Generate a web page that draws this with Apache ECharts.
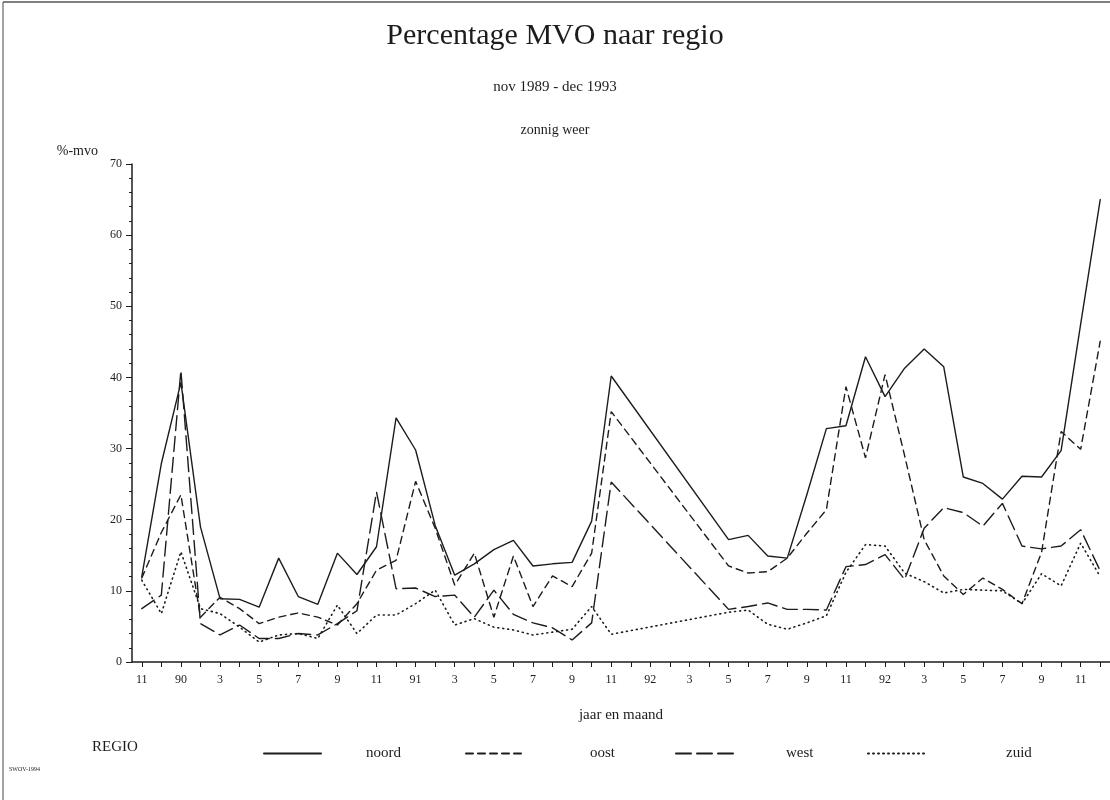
<!DOCTYPE html>
<html>
<head>
<meta charset="utf-8">
<script src="https://cdn.jsdelivr.net/npm/echarts@6/dist/echarts.min.js"></script>
<style>
html,body{margin:0;padding:0;background:#fff;}
#chart{width:1110px;height:800px;}
</style>
</head>
<body>
<div id="chart"></div>
<script>
// Months nov 1989 .. dec 1993 (50 categories)
const months = [
 '1989-11','1989-12',
 '1990-01','1990-02','1990-03','1990-04','1990-05','1990-06','1990-07','1990-08','1990-09','1990-10','1990-11','1990-12',
 '1991-01','1991-02','1991-03','1991-04','1991-05','1991-06','1991-07','1991-08','1991-09','1991-10','1991-11','1991-12',
 '1992-01','1992-02','1992-03','1992-04','1992-05','1992-06','1992-07','1992-08','1992-09','1992-10','1992-11','1992-12',
 '1993-01','1993-02','1993-03','1993-04','1993-05','1993-06','1993-07','1993-08','1993-09','1993-10','1993-11','1993-12'
];
// Tick labels as printed (every second month)
const tickLabels = ['11','90','3','5','7','9','11','91','3','5','7','9','11','92','3','5','7','9','11','92','3','5','7','9','11'];

const noord = [12.0,27.9,39.3,19.0,8.9,8.8,7.7,14.6,9.2,8.1,15.3,12.3,16.2,34.3,29.8,19.2,12.2,13.8,15.8,17.1,13.5,13.8,14.0,19.8,40.2,
  null,null,null,null,null,17.2,17.8,14.9,14.6,23.5,32.8,33.2,42.9,37.3,41.3,44.0,41.5,26.0,25.1,22.9,26.1,26.0,29.7,47.5,65.0];
const oost = [11.8,18.2,23.5,6.3,9.1,7.5,5.4,6.3,6.9,6.3,5.2,8.2,12.9,14.3,25.4,18.8,10.8,15.3,6.3,14.9,7.8,12.1,10.6,15.3,35.2,
  null,null,null,null,null,13.5,12.5,12.7,14.6,18.1,21.4,38.7,28.7,40.4,29.0,17.2,12.1,9.5,11.8,10.2,8.2,15.4,32.4,29.9,45.1];
const west = [7.5,9.4,41.0,5.4,3.8,5.2,3.3,3.3,4.0,3.8,5.4,7.2,23.9,10.3,10.4,9.2,9.4,6.3,10.1,6.7,5.5,4.8,3.1,5.5,25.3,
  null,null,null,null,null,7.4,7.8,8.3,7.4,7.4,7.3,13.4,13.7,15.1,11.6,18.8,21.7,21.0,19.1,22.3,16.3,15.9,16.3,18.6,12.8];
const zuid = [11.5,6.8,15.5,7.5,6.8,4.9,2.8,3.8,4.0,3.3,8.0,4.0,6.6,6.6,8.2,10.1,5.2,6.1,4.9,4.5,3.8,4.2,4.6,7.8,3.9,
  null,null,null,null,null,7.0,7.3,5.3,4.6,5.5,6.5,12.6,16.5,16.3,12.5,11.3,9.7,10.2,10.1,10.0,8.2,12.4,10.7,16.7,12.0];

const serif = "'Liberation Serif','DejaVu Serif',serif";
const ink = '#1c1c1c';

const chart = echarts.init(document.getElementById('chart'), null, {renderer:'canvas'});

function lineSeries(name, data, type, width){
  return {
    name: name, type: 'line', data: data, connectNulls: true,
    symbol: 'none', showSymbol: false, animation: false,
    lineStyle: {color: ink, width: width, type: type, cap: 'round'},
    itemStyle: {color: ink},
    emphasis: {disabled: true}
  };
}

function legendItem(name, left, pad){
  return {
    data: [name], left: left, top: 741, itemWidth: 57, itemHeight: 14,
    itemStyle: {opacity: 0},
    textStyle: {fontFamily: serif, fontSize: 15, color: ink, padding: [0,0,0,pad]},
    selectedMode: false
  };
}

chart.setOption({
  backgroundColor: '#ffffff',
  animation: false,
  title: [
    {text: 'Percentage MVO naar regio', left: 'center', top: 16,
     textStyle: {fontFamily: serif, fontSize: 30, fontWeight: 'normal', color: ink}},
    {text: 'nov 1989 - dec 1993', left: 'center', top: 75,
     textStyle: {fontFamily: serif, fontSize: 15, fontWeight: 'normal', color: ink}},
    {text: 'zonnig weer', left: 'center', top: 118,
     textStyle: {fontFamily: serif, fontSize: 14, fontWeight: 'normal', color: ink}}
  ],
  grid: {left: 132, top: 164, height: 498, width: 990, containLabel: false},
  xAxis: {
    type: 'category', data: months, boundaryGap: true,
    name: 'jaar en maand', nameLocation: 'middle', nameGap: 46,
    nameTextStyle: {fontFamily: serif, fontSize: 15, color: ink},
    axisLine: {lineStyle: {color: ink, width: 1.5}},
    axisTick: {show: true, interval: 0, alignWithLabel: true, length: 5, lineStyle: {color: ink, width: 1}},
    axisLabel: {interval: 0, margin: 12, fontFamily: serif, fontSize: 12, color: ink,
      formatter: function(v, i){ return i % 2 === 0 ? tickLabels[i/2] : ''; }},
    splitLine: {show: false}
  },
  yAxis: {
    type: 'value', min: 0, max: 70, interval: 10,
    name: '%-mvo', nameLocation: 'end', nameGap: 6,
    nameTextStyle: {fontFamily: serif, fontSize: 14, color: ink, align: 'right', padding: [0, 34, 0, 0]},
    axisLine: {show: true, lineStyle: {color: ink, width: 1.5}},
    axisTick: {show: true, length: 6, lineStyle: {color: ink, width: 1}},
    minorTick: {show: true, splitNumber: 5, length: 3, lineStyle: {color: ink, width: 1}},
    axisLabel: {margin: 10, fontFamily: serif, fontSize: 12, color: ink},
    splitLine: {show: false}
  },
  legend: [
    legendItem('noord', 258, 40),
    legendItem('oost', 460, 62),
    legendItem('west', 670, 48),
    legendItem('zuid', 862, 76)
  ],
  graphic: [
    {type: 'line', shape: {x1: 3, y1: 2, x2: 1110, y2: 2}, style: {stroke: '#555', lineWidth: 1.5}, silent: true},
    {type: 'line', shape: {x1: 3, y1: 2, x2: 3, y2: 800}, style: {stroke: '#666', lineWidth: 1.2}, silent: true},
    {type: 'text', left: 92, top: 740, style: {text: 'REGIO', font: "15px 'Liberation Serif', serif", fill: ink}, silent: true},
    {type: 'text', left: 9, top: 766, style: {text: 'SWOV-1994', font: "6px 'Liberation Serif', serif", fill: ink}, silent: true}
  ],
  series: [
    lineSeries('noord', noord, 'solid', 1.4),
    lineSeries('oost', oost, [7, 5], 1.4),
    lineSeries('west', west, [15, 6], 1.4),
    lineSeries('zuid', zuid, [1, 4], 1.6)
  ]
});
</script>
</body>
</html>
